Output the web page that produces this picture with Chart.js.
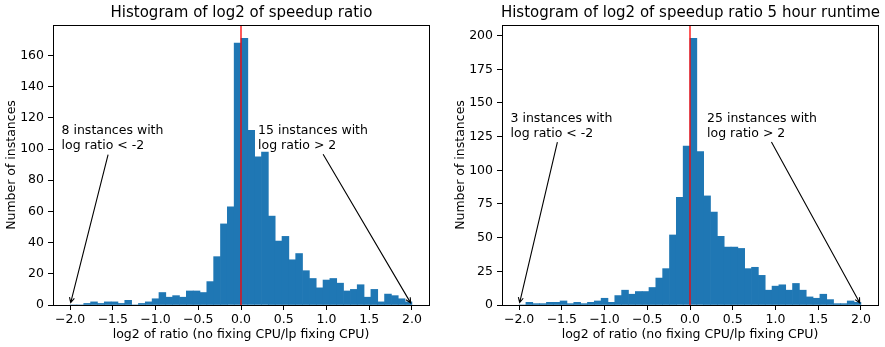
<!DOCTYPE html>
<html>
<head>
<meta charset="utf-8">
<script src="https://cdn.jsdelivr.net/npm/chart.js@4"></script>
<style>
  body { margin: 0; background: #fff; }
  #wrap { position: relative; width: 885px; height: 347px; }
  canvas { position: absolute; top: 0; }
</style>
</head>
<body>
<div id="wrap">
  <canvas id="c1" width="445" height="347" style="left:0px"></canvas>
  <canvas id="c2" width="436" height="347" style="left:449px"></canvas>
</div>
<script>
// bins de 0.08 entre -2 et 2 (50 bins)
const binStart = -2
const binWidth = 0.08
const counts1 = [0, 0, 1, 2, 1, 2, 2, 1, 3, 0,
                 1, 2, 4, 8, 5, 6, 5, 9, 9, 8,
                 15, 31, 52, 63, 168, 171, 112, 95, 98, 57,
                 41, 44, 29, 33, 22, 17, 11, 16, 17, 14,
                 9, 10, 13, 5, 10, 2, 7, 6, 4, 2]
const counts2 = [0, 2, 1, 1, 2, 2, 3, 1, 2, 1,
                 2, 3, 5, 2, 7, 11, 8, 10, 10, 13,
                 20, 27, 52, 80, 118, 198, 114, 81, 69, 51,
                 43, 43, 42, 27, 28, 22, 11, 14, 15, 11,
                 16, 11, 6, 5, 8, 4, 1, 1, 3, 2]
const xTicks = [-2, -1.5, -1, -0.5, 0, 0.5, 1, 1.5, 2]
const yTicks1 = [0, 20, 40, 60, 80, 100, 120, 140, 160]
const yTicks2 = [0, 25, 50, 75, 100, 125, 150, 175, 200]
const title1 = 'Histogram of log2 of speedup ratio'
const title2 = 'Histogram of log2 of speedup ratio 5 hour runtime'
const xLabel = 'log2 of ratio (no fixing CPU/lp fixing CPU)'
const yLabel = 'Number of instances'
const notes1 = [
    { text: ['8 instances with', 'log ratio < -2'], xy: [-2, 0], xytext: [-2.1, 100] },
    { text: ['15 instances with', 'log ratio > 2'], xy: [2, 0], xytext: [0.2, 100] }
]
const notes2 = [
    { text: ['3 instances with', 'log ratio < -2'], xy: [-2, 0], xytext: [-2.1, 125] },
    { text: ['25 instances with', 'log ratio > 2'], xy: [2, 0], xytext: [0.2, 125] }
]

const FONT = 'DejaVu Sans'
const fs = 12.5

// titre centré sur la zone du graphe, cadre + annotations (texte + flèche)
const notesPlugin = {
    id: 'notes',
    afterDatasetsDraw(chart, args, opts) {
        const ctx = chart.ctx
        const a = chart.chartArea
        const xs = chart.scales.x, ys = chart.scales.y
        ctx.save()
        ctx.strokeStyle = '#000'
        ctx.lineWidth = 1
        ctx.strokeRect(a.left + 0.5, a.top + 0.5, a.right - a.left, a.bottom - a.top)

        ctx.fillStyle = '#000'
        ctx.font = '15px "' + FONT + '"'
        ctx.textAlign = 'center'
        ctx.textBaseline = 'middle'
        ctx.fillText(opts.title, (a.left + a.right) / 2 + 0.5, 13)

        ctx.font = fs + 'px "' + FONT + '"'
        ctx.textBaseline = 'alphabetic'
        ctx.textAlign = 'left'
        const lh = fs * 1.2
        opts.notes.forEach(n => {
            const tx = xs.getPixelForValue(n.xytext[0])
            const ty = ys.getPixelForValue(n.xytext[1])
            const px = xs.getPixelForValue(n.xy[0])
            const py = ys.getPixelForValue(n.xy[1])
            const first = ty - lh * (n.text.length - 1)
            let w = 0
            n.text.forEach((t, i) => {
                w = Math.max(w, ctx.measureText(t).width)
                ctx.fillText(t, tx, first + i * lh)
            })
            const top = first - fs * 0.95
            const bottom = ty + fs * 0.25
            const cx = tx + w / 2, cy = (top + bottom) / 2
            const dx = px - cx, dy = py - cy
            const len = Math.hypot(dx, dy)
            const ux = dx / len, uy = dy / len
            const t0 = Math.min((w / 2) / Math.abs(dx || 1e-9), ((bottom - top) / 2) / Math.abs(dy || 1e-9))
            const sx = cx + dx * t0 + ux * 2.5, sy = cy + dy * t0 + uy * 2.5
            const ex = px - ux * 2.5, ey = py - uy * 2.5
            ctx.strokeStyle = '#000'
            ctx.lineWidth = 1.1
            ctx.beginPath()
            ctx.moveTo(sx, sy)
            ctx.lineTo(ex, ey)
            const hl = 5, hw = 2.5
            const bx = ex - ux * hl, by = ey - uy * hl
            ctx.moveTo(bx - uy * hw, by + ux * hw)
            ctx.lineTo(ex, ey)
            ctx.lineTo(bx + uy * hw, by - ux * hw)
            ctx.stroke()
        })
        ctx.restore()
    }
}

function makeChart(id, counts, yTicks, title, notes, rightPad) {
    const centers = counts.map((c, i) => binStart + (i + 0.5) * binWidth)
    const ymax = Math.max(...counts) * 1.05
    const tickFont = { family: FONT, size: fs }
    const config = {
        type: 'bar',
        data: {
            datasets: [
                {
                    type: 'line',
                    data: [{ x: 0, y: 0 }, { x: 0, y: ymax }],
                    borderColor: '#ff0000',
                    borderWidth: 1.3,
                    pointRadius: 0,
                    order: 0
                },
                {
                    data: counts.map((c, i) => ({ x: centers[i], y: c })),
                    backgroundColor: '#1f77b4',
                    borderWidth: 0,
                    barPercentage: 1,
                    categoryPercentage: 1,
                    order: 1
                }
            ]
        },
        options: {
            responsive: false,
            animation: false,
            devicePixelRatio: 1,
            layout: { padding: { left: 0, right: rightPad, top: 25, bottom: 0 } },
            plugins: {
                legend: { display: false },
                tooltip: { enabled: false },
                title: { display: false },
                notes: { notes: notes, title: title }
            },
            scales: {
                x: {
                    type: 'linear',
                    min: -2.2,
                    max: 2.2,
                    offset: false,
                    afterBuildTicks: s => { s.ticks = xTicks.map(v => ({ value: v })) },
                    afterFit: s => { s.height = 42 },
                    border: { display: false },
                    grid: { offset: false, drawOnChartArea: false, tickLength: 5, color: '#000' },
                    ticks: {
                        autoSkip: false, maxRotation: 0, padding: 2, color: '#000', font: tickFont,
                        callback: v => v.toFixed(1).replace('-', '\u2212')
                    },
                    title: { display: true, text: xLabel, color: '#000', font: tickFont, padding: { top: 0, bottom: 5 } }
                },
                y: {
                    min: 0,
                    max: ymax,
                    afterBuildTicks: s => { s.ticks = yTicks.map(v => ({ value: v })) },
                    afterFit: s => { s.width = 53 },
                    border: { display: false },
                    grid: { drawOnChartArea: false, tickLength: 5, color: '#000' },
                    ticks: { padding: 4, color: '#000', font: tickFont },
                    title: { display: true, text: yLabel, color: '#000', font: tickFont, padding: { top: 4, bottom: 0 } }
                }
            }
        },
        plugins: [notesPlugin]
    }
    return new Chart(document.getElementById(id), config)
}

const chartOne = makeChart('c1', counts1, yTicks1, title1, notes1, 16)
const chartTwo = makeChart('c2', counts2, yTicks2, title2, notes2, 7)
</script>
</body>
</html>
